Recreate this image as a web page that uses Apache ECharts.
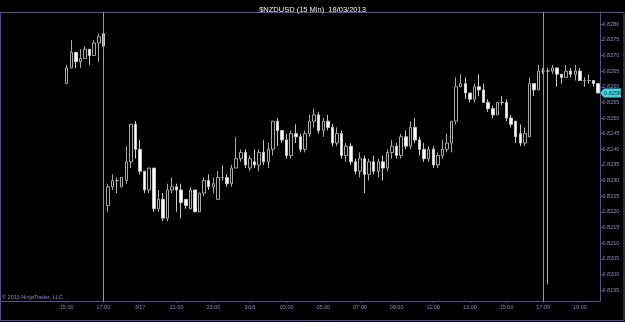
<!DOCTYPE html>
<html>
<head>
<meta charset="utf-8">
<script src="https://cdn.jsdelivr.net/npm/echarts@6/dist/echarts.min.js"></script>
<style>
  html, body { margin: 0; padding: 0; background: #000; }
  #chart { width: 625px; height: 322px; }
</style>
</head>
<body>
<div id="chart"></div>
<script>
// 15 min bars, Fri 3/15 15:00-17:00 then Sun 3/17 17:15 - Mon 3/18 20:00
var sessions = [[15, 15 * 60, 9], [17, 17 * 60 + 15, 108]];

var opens = [
  0.8261, 0.8266, 0.8271, 0.8268, 0.8269, 0.8272, 0.8270, 0.8274, 0.8277,
  0.8222, 0.8228, 0.8230, 0.8228, 0.8230, 0.8236, 0.8248, 0.8240, 0.8233, 0.8227,
  0.8234, 0.8221, 0.8224, 0.8218, 0.8227, 0.8228, 0.8227, 0.8224, 0.8221, 0.8227,
  0.8220, 0.8226, 0.8230, 0.8228, 0.8224, 0.8231, 0.8231, 0.8229, 0.8234, 0.8237,
  0.8239, 0.8234, 0.8236, 0.8235, 0.8239, 0.8236, 0.8240, 0.8249, 0.8246, 0.8243,
  0.8238, 0.8245, 0.8244, 0.8240, 0.8245, 0.8249, 0.8251, 0.8246, 0.8249, 0.8247,
  0.8242, 0.8245, 0.8238, 0.8241, 0.8236, 0.8233, 0.8237, 0.8232, 0.8236, 0.8233,
  0.8236, 0.8234, 0.8239, 0.8241, 0.8238, 0.8244, 0.8241, 0.8247, 0.8243, 0.8240,
  0.8237, 0.8240, 0.8235, 0.8238, 0.8240, 0.8242, 0.8249, 0.8260, 0.8261, 0.8258,
  0.8256, 0.8260, 0.8259, 0.8255, 0.8253, 0.8251, 0.8255, 0.8255, 0.8250, 0.8249,
  0.8245, 0.8242, 0.8244, 0.8261, 0.8259, 0.8265, 0.8265, 0.8265, 0.8266, 0.8264,
  0.8263, 0.8265, 0.8264, 0.8265, 0.8262, 0.8262, 0.8262, 0.8261
];
var closes = [
  0.8266, 0.8271, 0.8268, 0.8269, 0.8272, 0.8270, 0.8274, 0.8276, 0.8273,
  0.8228, 0.8230, 0.8230, 0.8231, 0.8236, 0.8248, 0.8240, 0.8233, 0.8227, 0.8234,
  0.8221, 0.8224, 0.8218, 0.8227, 0.8228, 0.8227, 0.8223, 0.8222, 0.8227, 0.8220,
  0.8226, 0.8230, 0.8228, 0.8229, 0.8231, 0.8231, 0.8229, 0.8234, 0.8237, 0.8239,
  0.8235, 0.8237, 0.8235, 0.8239, 0.8236, 0.8240, 0.8249, 0.8246, 0.8243, 0.8238,
  0.8245, 0.8244, 0.8240, 0.8245, 0.8249, 0.8251, 0.8246, 0.8249, 0.8247, 0.8242,
  0.8245, 0.8238, 0.8241, 0.8236, 0.8233, 0.8237, 0.8232, 0.8236, 0.8233, 0.8236,
  0.8234, 0.8239, 0.8241, 0.8238, 0.8244, 0.8241, 0.8247, 0.8243, 0.8240, 0.8237,
  0.8240, 0.8235, 0.8238, 0.8240, 0.8242, 0.8249, 0.8260, 0.8261, 0.8258, 0.8256,
  0.8260, 0.8259, 0.8255, 0.8253, 0.8251, 0.8255, 0.8255, 0.8250, 0.8248, 0.8244,
  0.8242, 0.8245, 0.8261, 0.8259, 0.8265, 0.8265, 0.8265, 0.8266, 0.8264, 0.8263,
  0.8265, 0.8264, 0.8265, 0.8262, 0.8262, 0.8262, 0.8261, 0.8258
];
var highs = [
  0.8267, 0.8275, 0.8271, 0.8272, 0.8273, 0.8272, 0.8275, 0.8277, 0.8277,
  0.8229, 0.8232, 0.8231, 0.8231, 0.8241, 0.8248, 0.8249, 0.8243, 0.8233, 0.8234,
  0.8234, 0.8227, 0.8226, 0.8229, 0.8231, 0.8229, 0.8229, 0.8224, 0.8228, 0.8227,
  0.8226, 0.8231, 0.8232, 0.8231, 0.8233, 0.8235, 0.8232, 0.8235, 0.8244, 0.8240,
  0.8240, 0.8238, 0.8240, 0.8240, 0.8243, 0.8242, 0.8249, 0.8250, 0.8246, 0.8245,
  0.8246, 0.8248, 0.8245, 0.8246, 0.8251, 0.8253, 0.8252, 0.8250, 0.8251, 0.8248,
  0.8247, 0.8246, 0.8242, 0.8242, 0.8237, 0.8239, 0.8238, 0.8237, 0.8238, 0.8237,
  0.8238, 0.8240, 0.8243, 0.8242, 0.8245, 0.8246, 0.8249, 0.8250, 0.8244, 0.8242,
  0.8241, 0.8241, 0.8239, 0.8243, 0.8245, 0.8249, 0.8263, 0.8264, 0.8263, 0.8258,
  0.8261, 0.8264, 0.8261, 0.8256, 0.8254, 0.8255, 0.8257, 0.8256, 0.8251, 0.8249,
  0.8248, 0.8247, 0.8263, 0.8261, 0.8267, 0.8266, 0.8266, 0.8267, 0.8266, 0.8264,
  0.8267, 0.8266, 0.8267, 0.8266, 0.8263, 0.8264, 0.8262, 0.8261
];
var lows = [
  0.8261, 0.8266, 0.8266, 0.8266, 0.8269, 0.8267, 0.8270, 0.8268, 0.8272,
  0.8220, 0.8227, 0.8226, 0.8228, 0.8229, 0.8234, 0.8237, 0.8232, 0.8226, 0.8226,
  0.8220, 0.8220, 0.8217, 0.8217, 0.8226, 0.8220, 0.8218, 0.8221, 0.8221, 0.8220,
  0.8220, 0.8225, 0.8227, 0.8226, 0.8224, 0.8230, 0.8228, 0.8228, 0.8234, 0.8236,
  0.8234, 0.8233, 0.8234, 0.8233, 0.8235, 0.8234, 0.8238, 0.8241, 0.8242, 0.8237,
  0.8237, 0.8242, 0.8239, 0.8239, 0.8244, 0.8247, 0.8245, 0.8244, 0.8246, 0.8241,
  0.8241, 0.8237, 0.8236, 0.8235, 0.8232, 0.8231, 0.8226, 0.8230, 0.8232, 0.8231,
  0.8230, 0.8233, 0.8237, 0.8237, 0.8237, 0.8240, 0.8240, 0.8242, 0.8238, 0.8236,
  0.8236, 0.8234, 0.8234, 0.8237, 0.8239, 0.8239, 0.8248, 0.8260, 0.8256, 0.8255,
  0.8255, 0.8257, 0.8255, 0.8252, 0.8250, 0.8251, 0.8254, 0.8249, 0.8247, 0.8242,
  0.8241, 0.8241, 0.8244, 0.8257, 0.8259, 0.8264, 0.81968, 0.8264, 0.8260, 0.8261,
  0.8263, 0.8263, 0.8262, 0.8262, 0.8260, 0.8261, 0.8260, 0.8258
];

var priceTicks = [
  0.8195, 0.8200, 0.8205, 0.8210, 0.8215, 0.8220, 0.8225, 0.8230, 0.8235,
  0.8240, 0.8245, 0.8250, 0.8255, 0.8260, 0.8265, 0.8270, 0.8275, 0.8280
];
var tickTimes = [
  '3/15 15:00', '3/15 17:00', '3/17 19:00', '3/17 21:00', '3/17 23:00',
  '3/18 01:00', '3/18 03:00', '3/18 05:00', '3/18 07:00', '3/18 09:00',
  '3/18 11:00', '3/18 13:00', '3/18 15:00', '3/18 17:00', '3/18 19:00'
];
var tickText = [
  '15:00', '17:00', '3/17', '21:00', '23:00', '3/18', '03:00', '05:00',
  '07:00', '09:00', '11:00', '13:00', '15:00', '17:00', '19:00'
];
var sessionBreaks = ['3/15 17:00', '3/18 17:00'];

function pad(n) { return (n < 10 ? '0' : '') + n; }

var times = [];
sessions.forEach(function (s) {
  for (var k = 0; k < s[2]; k++) {
    var m = s[1] + k * 15;
    var d = s[0] + Math.floor(m / 1440);
    var mm = m % 1440;
    times.push('3/' + d + ' ' + pad(Math.floor(mm / 60)) + ':' + pad(mm % 60));
  }
});

var ohlc = times.map(function (t, i) {
  return [opens[i], closes[i], lows[i], highs[i]];
});

var frameColor = '#55508a';
var textColor = '#8d89c4';
var font = 'Liberation Sans, Arial, sans-serif';

var chart = echarts.init(document.getElementById('chart'));
var option = {
  backgroundColor: '#000',
  animation: false,
  title: {
    text: '$NZDUSD (15 Min)  18/03/2013',
    left: 'center',
    top: 1,
    textStyle: { color: '#f0f0f0', fontSize: 7.5, fontWeight: 'normal', fontFamily: font }
  },
  grid: { left: 64.4, right: 24.5, top: 12, bottom: 21 },
  xAxis: {
    type: 'category',
    data: times,
    axisLine: { show: false },
    axisTick: {
      show: true,
      alignWithLabel: true,
      length: 2,
      interval: function (i, v) { return tickTimes.indexOf(v) >= 0; },
      lineStyle: { color: frameColor }
    },
    axisLabel: {
      interval: function (i, v) { return tickTimes.indexOf(v) >= 0; },
      formatter: function (v) { return tickText[tickTimes.indexOf(v)]; },
      color: textColor,
      fontSize: 5.5,
      fontFamily: font,
      margin: 3
    },
    splitLine: { show: false }
  },
  yAxis: {
    type: 'value',
    position: 'right',
    min: 0.81915,
    max: 0.82839,
    scale: true,
    axisLine: { show: true, lineStyle: { color: frameColor } },
    axisTick: { show: true, length: 3, customValues: priceTicks, lineStyle: { color: frameColor } },
    axisLabel: {
      customValues: priceTicks,
      formatter: function (v) { return v.toFixed(4); },
      color: textColor,
      fontSize: 5.5,
      fontFamily: font,
      margin: 2
    },
    splitLine: { show: false }
  },
  series: [
    {
      type: 'candlestick',
      data: ohlc,
      barWidth: 3,
      itemStyle: {
        color: '#000',
        color0: '#ffffff',
        borderColor: '#a8a8a8',
        borderColor0: '#c8c8c8',
        borderColorDoji: '#b4b4b4',
        borderWidth: 1
      },
      markLine: {
        silent: true,
        symbol: 'none',
        label: { show: false },
        lineStyle: { color: '#9a9a9a', width: 1, type: 'solid' },
        data: sessionBreaks.map(function (t) { return { xAxis: t }; })
      }
    }
  ]
};
chart.setOption(option);

// frame, bottom axis line, copyright and last price box
var bottomY = 301;
var lastClose = closes[closes.length - 1];
var py = chart.convertToPixel({ yAxisIndex: 0 }, lastClose);
chart.setOption({
  graphic: [
    { type: 'rect', shape: { x: 0.5, y: 12.5, width: 623.5, height: 308 },
      style: { fill: null, stroke: frameColor, lineWidth: 1 }, silent: true },
    { type: 'line', shape: { x1: 1, y1: bottomY + 0.5, x2: 600.5, y2: bottomY + 0.5 },
      style: { stroke: frameColor, lineWidth: 1 }, silent: true },
    { type: 'text', left: 2, top: 294,
      style: { text: '\u00a9 2013 NinjaTrader, LLC', fill: textColor, fontSize: 5.5, fontFamily: font } },
    { type: 'polygon', silent: true,
      shape: { points: [[600, py], [604, py - 4.5], [621, py - 4.5], [621, py + 4.5], [604, py + 4.5]] },
      style: { fill: '#3fd6df' } },
    { type: 'text', x: 612.5, y: py, silent: true,
      style: { text: lastClose.toFixed(4), fill: '#08303a', fontSize: 5.5, fontFamily: font,
        align: 'center', verticalAlign: 'middle' } }
  ]
});
</script>
</body>
</html>
